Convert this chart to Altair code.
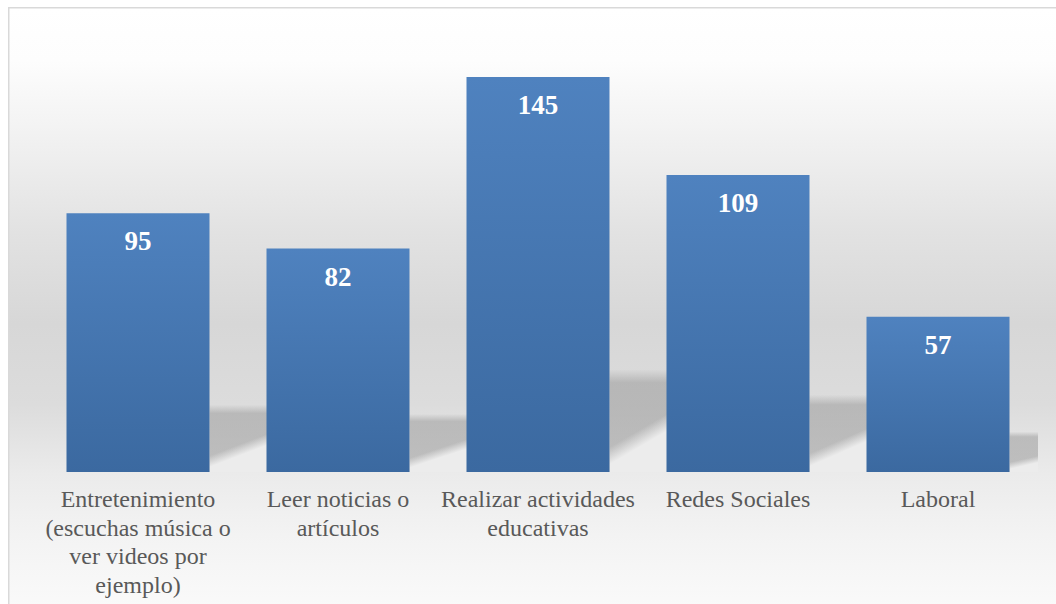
import altair as alt
import pandas as pd
import json

# ---- data ----
categories = [
    "Entretenimiento (escuchas música o ver videos por ejemplo)",
    "Leer noticias o artículos",
    "Realizar actividades educativas",
    "Redes Sociales",
    "Laboral",
]
values = [95, 82, 145, 109, 57]
label_lines = [
    ["Entretenimiento", "(escuchas música o", "ver videos por", "ejemplo)"],
    ["Leer noticias o", "artículos"],
    ["Realizar actividades", "educativas"],
    ["Redes Sociales"],
    ["Laboral"],
]

df = pd.DataFrame({"cat": categories, "value": values})
bg_df = pd.DataFrame({"k": [0]})

label_expr = (
    json.dumps(label_lines, ensure_ascii=False)
    + "[indexof("
    + json.dumps(categories, ensure_ascii=False)
    + ", datum.label)]"
)

SERIF = "'Liberation Serif', 'Times New Roman', Times, 'DejaVu Serif', serif"

W, H = 1000, 436
PAD = {"left": 38, "top": 36, "right": 18, "bottom": 132}

x_enc = alt.X(
    "cat:N",
    sort=categories,
    scale=alt.Scale(paddingInner=0.285, paddingOuter=0.1425),
    axis=alt.Axis(
        title=None,
        labelAngle=0,
        labelExpr=label_expr,
        labelFont=SERIF,
        labelFontSize=24,
        labelColor="#595959",
        labelLineHeight=28.5,
        labelPadding=15.5,
        labelLimit=400,
        labelOverlap=False,
        ticks=False,
        domain=False,
        zindex=1,
    ),
)
y_enc = alt.Y("value:Q", scale=alt.Scale(domain=[0, 160]), axis=None)


def ystop(y):
    return (y - 7) / 607.0


bg_grad = alt.Gradient(
    gradient="linear",
    x1=0, x2=0, y1=0, y2=1,
    stops=[
        alt.GradientStop(color="#ffffff", offset=0),
        alt.GradientStop(color="#fdfdfd", offset=ystop(60)),
        alt.GradientStop(color="#efefef", offset=ystop(150)),
        alt.GradientStop(color="#e2e2e2", offset=ystop(230)),
        alt.GradientStop(color="#d7d7d7", offset=ystop(320)),
        alt.GradientStop(color="#dcdcdc", offset=ystop(400)),
        alt.GradientStop(color="#ebebeb", offset=ystop(470)),
        alt.GradientStop(color="#f3f3f3", offset=ystop(530)),
        alt.GradientStop(color="#fbfbfb", offset=1),
    ],
)

background = alt.Chart(bg_df).mark_rect(
    fill=bg_grad, stroke="#d9d9d9", strokeWidth=1.5
).encode(
    x=alt.value(8.75 - PAD["left"]),
    x2=alt.value(1070 - PAD["left"]),
    y=alt.value(7.75 - PAD["top"]),
    y2=alt.value(620 - PAD["top"]),
)

# shadow core: horizontal soft top edge
shadow_core_grad = alt.Gradient(
    gradient="linear",
    x1=0, y1=0, x2=0, y2=1,
    stops=[
        alt.GradientStop(color="rgba(140,140,140,0)", offset=0),
        alt.GradientStop(color="rgba(140,140,140,0.45)", offset=0.13),
        alt.GradientStop(color="rgba(140,140,140,0.47)", offset=1),
    ],
)
# light wedge: diagonal soft lower edge
shadow_wedge_grad = alt.Gradient(
    gradient="linear",
    x1=0.5, y1=0.55, x2=0.602, y2=0.85,
    stops=[
        alt.GradientStop(color="rgba(236,236,236,0)", offset=0),
        alt.GradientStop(color="rgba(236,236,236,0)", offset=0.12),
        alt.GradientStop(color="rgba(236,236,236,1)", offset=0.62),
        alt.GradientStop(color="rgba(236,236,236,1)", offset=1),
    ],
)

shadow_base = alt.Chart(df).transform_calculate(shadow="datum.value * 0.26")
shadow_y = alt.Y("shadow:Q", scale=alt.Scale(domain=[0, 160]), axis=None)

shadow_core = shadow_base.mark_bar(
    fill=shadow_core_grad, width=60, xOffset=101.5, clip=True
).encode(x=x_enc, y=shadow_y)

shadow_wedge = shadow_base.mark_bar(
    fill=shadow_wedge_grad, width=60, xOffset=101.5, clip=True
).encode(x=x_enc, y=shadow_y)

bar_grad = alt.Gradient(
    gradient="linear",
    x1=0, x2=0, y1=0, y2=1,
    stops=[
        alt.GradientStop(color="#4f82bf", offset=0),
        alt.GradientStop(color="#3b69a0", offset=1),
    ],
)

bars = alt.Chart(df).mark_bar(fill=bar_grad).encode(x=x_enc, y=y_enc)

labels = alt.Chart(df).mark_text(
    font=SERIF,
    fontSize=27,
    fontWeight="bold",
    color="#ffffff",
    baseline="middle",
    dy=29,
).encode(x=x_enc, y=y_enc, text=alt.Text("value:Q"))

chart = alt.layer(background, shadow_core, shadow_wedge, bars, labels).properties(
    width=W,
    height=H,
    autosize=alt.AutoSizeParams(type="none"),
    padding=PAD,
    background="#ffffff",
).configure_view(stroke=None)

chart.save("out.html", embed_options={"renderer": "svg", "actions": False})
